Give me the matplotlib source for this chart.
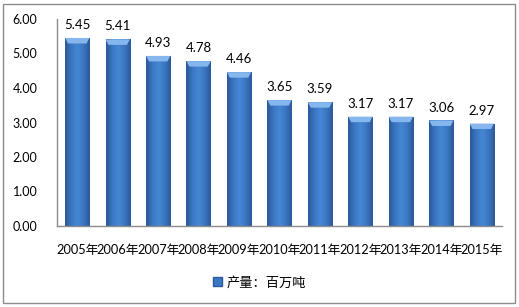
import numpy as np
import matplotlib.pyplot as plt
from matplotlib.patches import Rectangle, Polygon
from matplotlib.colors import LinearSegmentedColormap

years = ['2005年', '2006年', '2007年', '2008年', '2009年', '2010年',
         '2011年', '2012年', '2013年', '2014年', '2015年']
output = [5.45, 5.41, 4.93, 4.78, 4.46, 3.65, 3.59, 3.17, 3.17, 3.06, 2.97]
series_name = '产量：百万吨'
yticks = [0, 1, 2, 3, 4, 5, 6]

plt.rcParams['font.family'] = ['Lato', 'Noto Sans CJK SC', 'DejaVu Sans']

fig = plt.figure(figsize=(5.19, 3.07), dpi=100)
ax = fig.add_axes([57 / 519, 1 - 226 / 307, 445 / 519, 207 / 307])

x = np.arange(len(years))
bars = ax.bar(x, output, width=0.6, color='#3d78c4', zorder=2)

# cylinder-like shading: darker edges, lighter middle
cmap = LinearSegmentedColormap.from_list(
    'cyl', ['#2b5a98', '#3b76c2', '#4587d4', '#3b76c2', '#2b5a98'])
grad = np.linspace(0, 1, 64).reshape(1, -1)
for b in bars:
    bx, bw, bh = b.get_x(), b.get_width(), b.get_height()
    im = ax.imshow(grad, cmap=cmap, aspect='auto', extent=[bx, bx + bw, 0, bh],
                   zorder=2.1)
    im.set_clip_path(b)
    h = 0.16
    ins = bw * 0.12
    ax.add_patch(Polygon([(bx, bh), (bx + bw, bh), (bx + bw - ins, bh - h),
                          (bx + ins, bh - h)], closed=True,
                         facecolor='#86b6ee', edgecolor='none', zorder=2.2))
    ax.text(bx + bw / 2, bh + 0.2, f'{bh:.2f}', ha='center', va='bottom',
            fontsize=9.5, color='black')

ax.set_xlim(-0.5, len(years) - 0.5)
ax.set_ylim(0, 6)
ax.set_yticks(yticks)
ax.set_yticklabels([f'{v:.2f}' for v in yticks], fontsize=9)
ax.set_xticks(x)
ax.set_xticklabels(years, fontsize=9.2)
ax.tick_params(axis='y', length=0, pad=14)
ax.tick_params(axis='x', length=0, pad=13)
for s in ['top', 'right']:
    ax.spines[s].set_visible(False)
for s in ['left', 'bottom']:
    ax.spines[s].set_color('#8c8c8c')
    ax.spines[s].set_linewidth(1)

handle = Rectangle((0, 0), 1, 1, facecolor='#3d78c4', edgecolor='#2b5a98')
fig.legend([handle], [series_name], loc='center', bbox_to_anchor=(0.5, 25 / 307),
           frameon=False, fontsize=9.5, handlelength=0.7, handleheight=0.7,
           handletextpad=0.3)

fig.patches.append(Rectangle((3 / 519, 4 / 307), 512 / 519, 299 / 307,
                             transform=fig.transFigure, fill=False,
                             edgecolor='#8c8c8c', linewidth=1))

fig.savefig('out.png', dpi=100)
